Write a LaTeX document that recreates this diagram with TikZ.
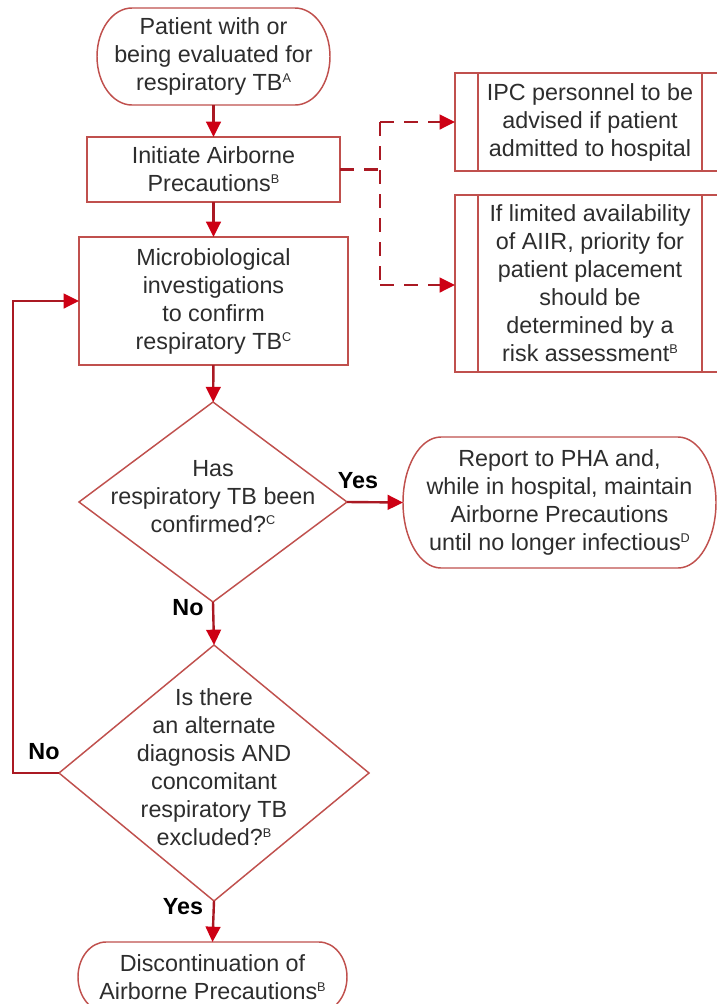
\documentclass[tikz,border=0pt]{standalone}
\usepackage{fontspec}
\setmainfont{Liberation Sans}
\usetikzlibrary{arrows.meta,shapes.geometric}
\definecolor{bordc}{RGB}{192,80,77}
\definecolor{linec}{RGB}{170,25,35}
\definecolor{headc}{RGB}{205,0,20}
\definecolor{txtc}{RGB}{45,45,45}
% outline of a terminal with elliptical ends: #1 node, #2 x radius, #3 y radius
\newcommand\termoutline[3]{%
  \draw[bordc,line width=1.1pt] ([xshift=#2]#1.north west) -- ([xshift=-#2]#1.north east)
    arc[start angle=90,end angle=-90,x radius=#2,y radius=#3]
    -- ([xshift=#2]#1.south west)
    arc[start angle=270,end angle=90,x radius=#2,y radius=#3] -- cycle;}
% text of a decision, not enlarging the diamond
\newcommand\dectext[1]{\makebox[0pt]{\raisebox{-4.4pt}{\smash{\begin{tabular}{@{}c@{}}#1\end{tabular}}}}}
% small superscript reference letter
\newcommand\refsup[1]{\raisebox{6pt}{\fontsize{9.5}{10}\selectfont #1}}
\begin{document}
\begin{tikzpicture}[x=0.75pt,y=-0.75pt,
  every node/.style={font=\fontsize{17.5}{21}\selectfont, text=txtc, inner sep=0pt, outer sep=0pt},
  boxn/.style={rectangle, draw=bordc, line width=1.1pt, fill=white, align=center},
  termn/.style={rectangle, align=center},
  decn/.style={diamond, draw=bordc, line width=1.1pt, fill=white},
  arr/.style={draw=linec, line width=1.8pt, -{Triangle[length=11.5pt,width=11pt,color=headc,fill=headc]}},
  dline/.style={draw=linec, line width=1.8pt, dash pattern=on 10.5pt off 7.5pt},
  darr/.style={dline, -{Triangle[length=11.5pt,width=11pt,color=headc,fill=headc]}},
  lbl/.style={font=\bfseries\fontsize{17.5}{21}\selectfont, text=black}]
\fill[white] (0,0) rectangle (717,1004);
\useasboundingbox (0,0) rectangle (717,1004);

% main column
\node[termn, minimum width=174.75pt, minimum height=72.75pt] (start) at (213.5,56.5)
  {Patient with or\\being evaluated for\\respiratory TB\refsup{A}};
\termoutline{start}{26.25pt}{36.375pt}

\node[boxn, minimum width=189.75pt, minimum height=48.75pt] (init) at (213.5,169.5)
  {Initiate Airborne\\Precautions\refsup{B}};

\node[boxn, minimum width=201.75pt, minimum height=96pt] (micro) at (213.5,301)
  {Microbiological\\investigations\\to confirm\\respiratory TB\refsup{C}};

\node[decn, minimum width=201pt, minimum height=150pt] (d1) at (213,502)
  {\dectext{Has\\respiratory TB been\\confirmed?\refsup{C}}};

\node[termn, minimum width=234.75pt, minimum height=98.25pt] (report) at (559.5,502.5)
  {Report to PHA and,\\while in hospital, maintain\\Airborne Precautions\\until no longer infectious\refsup{D}};
\termoutline{report}{28.5pt}{49.125pt}

\node[decn, minimum width=232.5pt, minimum height=192pt] (d2) at (214,773)
  {\dectext{Is there\\an alternate\\diagnosis AND\\concomitant\\respiratory TB\\excluded?\refsup{B}}};

\node[termn, minimum width=201.75pt, minimum height=52.5pt] (end) at (212.5,977)
  {Discontinuation of\\Airborne Precautions\refsup{B}};
\termoutline{end}{21pt}{26.25pt}

% side boxes
\node[boxn, minimum width=202.5pt, minimum height=73.5pt] (ipc) at (590,122)
  {IPC personnel to be\\advised if patient\\admitted to hospital};
\draw[bordc,line width=1.1pt] ([xshift=17.25pt]ipc.north west) -- ([xshift=17.25pt]ipc.south west)
  ([xshift=-17.25pt]ipc.north east) -- ([xshift=-17.25pt]ipc.south east);

\node[boxn, minimum width=202.5pt, minimum height=132.75pt] (aiir) at (590,283.5)
  {If limited availability\\of AIIR, priority for\\patient placement\\should be\\determined by a\\risk assessment\refsup{B}};
\draw[bordc,line width=1.1pt] ([xshift=17.25pt]aiir.north west) -- ([xshift=17.25pt]aiir.south west)
  ([xshift=-17.25pt]aiir.north east) -- ([xshift=-17.25pt]aiir.south east);

% connectors
\draw[arr] (start) -- (init);
\draw[arr] (init) -- (micro);
\draw[arr] (micro) -- (d1);
\draw[arr] (d1.south) -- (d2.north);
\draw[arr] (d2.south) -- (end.north);
\draw[arr] (d1.east) -- (report.west);

\coordinate (fbx) at (13,0);
\draw[arr] (d2.west) -- (d2.west -| fbx) |- (micro.west);

\coordinate (jm) at (380,169.5);
\coordinate (jt) at (380,122);
\coordinate (jb) at (380,285);
\draw[dline] (init.east) -- (jm);
\draw[dline] (jt) -- (jb);
\draw[darr] (jt) -- (ipc.west);
\draw[darr] (jb) -- (jb -| aiir.west);

% labels
\node[lbl] (yes1) at (358,481) {Yes};
\node[lbl] (no1) at (188,608) {No};
\node[lbl] (no2) at (44,752) {No};
\node[lbl] (yes2) at (183,907) {Yes};
\end{tikzpicture}
\end{document}
